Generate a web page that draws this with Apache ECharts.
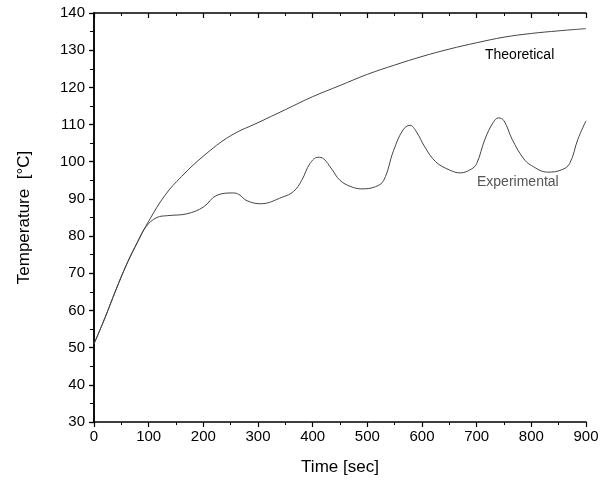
<!DOCTYPE html>
<html><head><meta charset="utf-8">
<script src="https://cdn.jsdelivr.net/npm/echarts@6/dist/echarts.min.js"></script>
<style>html,body{margin:0;padding:0;background:#fff}#c{width:608px;height:486px}</style>
</head><body><div id="c"></div>
<script>
const xTicks = [0,100,200,300,400,500,600,700,800,900];
const yTicks = [30,40,50,60,70,80,90,100,110,120,130,140];
const theoreticalTime = [0,20,40,60,80,100,130,160,200,250,300,350,400,450,500,550,600,650,700,750,800,850,900];
const theoreticalTemp = [51,58,65.5,72.5,78.5,84,91,96,101.5,107,110.5,114,117.5,120.5,123.5,126,128.3,130.3,132,133.5,134.5,135.2,135.8];
const experimentalTime = [0,20,40,60,80,95,115,135,170,200,225,255,265,280,305,345,365,380,395,410,420,435,450,470,490,515,530,548,565,578,590,605,625,650,670,690,700,715,730,740,750,765,785,800,830,855,870,885,900];
const experimentalTemp = [51,58,65.5,72.5,78.5,82.5,85,85.5,86,87.8,91,91.6,91.2,89.5,88.7,90.5,92,95,99.5,101.2,100.8,98,95,93.3,92.7,93.3,95,103,108.5,109.8,108,104,100,97.8,97,98,99.5,106,110.5,111.8,111,106,101,99,97.2,97.8,99.5,106,111];
const labels = {theoretical: 'Theoretical', experimental: 'Experimental'};

const pair = (xs, ys) => xs.map((x, i) => [x, ys[i]]);
const chart = echarts.init(document.getElementById('c'));
const axisLine = {show: true, lineStyle: {color: '#000', width: 1.5}};
const font = 'Arial, "Liberation Sans", sans-serif';
chart.setOption({
  animation: false,
  grid: {left: 94, right: 22, top: 13, bottom: 64, containLabel: false},
  xAxis: [{
    type: 'value', min: xTicks[0], max: xTicks[xTicks.length-1], interval: 100,
    position: 'bottom',
    name: 'Time [sec]', nameLocation: 'middle', nameGap: 37,
    nameTextStyle: {fontFamily: font, fontSize: 17, color: '#000'},
    axisLine: axisLine,
    axisTick: {show: true, inside: false, length: 5, lineStyle: {color: '#000', width: 1.2}},
    minorTick: {show: true, splitNumber: 2, length: 3, lineStyle: {color: '#000'}},
    axisLabel: {fontFamily: font, fontSize: 15, color: '#000', margin: 7},
    splitLine: {show: false}
  }, {
    type: 'value', min: xTicks[0], max: xTicks[xTicks.length-1], interval: 100,
    position: 'top',
    axisLine: axisLine,
    axisTick: {show: true, inside: true, length: 5, lineStyle: {color: '#000', width: 1.2}},
    minorTick: {show: true, splitNumber: 2, length: 3, lineStyle: {color: '#000'}},
    axisLabel: {show: false},
    splitLine: {show: false}
  }],
  yAxis: [{
    type: 'value', min: yTicks[0], max: yTicks[yTicks.length-1], interval: 10,
    position: 'left',
    name: 'Temperature  [°C]', nameLocation: 'middle', nameGap: 61, nameRotate: 90,
    nameTextStyle: {fontFamily: font, fontSize: 17, color: '#000'},
    axisLine: axisLine,
    axisTick: {show: true, inside: false, length: 5, lineStyle: {color: '#000', width: 1.2}},
    minorTick: {show: true, splitNumber: 2, length: 3, lineStyle: {color: '#000'}},
    axisLabel: {fontFamily: font, fontSize: 15, color: '#000', margin: 9},
    splitLine: {show: false}
  }, {
    type: 'value', min: yTicks[0], max: yTicks[yTicks.length-1], interval: 10,
    position: 'right',
    axisLine: axisLine,
    axisTick: {show: true, inside: true, length: 4, lineStyle: {color: '#000', width: 1.2}},
    minorTick: {show: true, splitNumber: 2, length: 4, lineStyle: {color: '#000'}},
    axisLabel: {show: false},
    splitLine: {show: false}
  }],
  series: [{
    type: 'line', name: labels.theoretical, xAxisIndex: 0, yAxisIndex: 0,
    data: pair(theoreticalTime, theoreticalTemp), smooth: 0.4, showSymbol: false,
    lineStyle: {color: '#444', width: 1}
  }, {
    type: 'line', name: labels.experimental, xAxisIndex: 0, yAxisIndex: 0,
    data: pair(experimentalTime, experimentalTemp), smooth: 0.4, showSymbol: false,
    lineStyle: {color: '#444', width: 1}
  }],
  graphic: [
    {type: 'text', left: 485, top: 48, style: {text: labels.theoretical, fontFamily: font, fontSize: 14, fill: '#000'}},
    {type: 'text', left: 477, top: 175, style: {text: labels.experimental, fontFamily: font, fontSize: 14, fill: '#555'}}
  ]
});
</script></body></html>
